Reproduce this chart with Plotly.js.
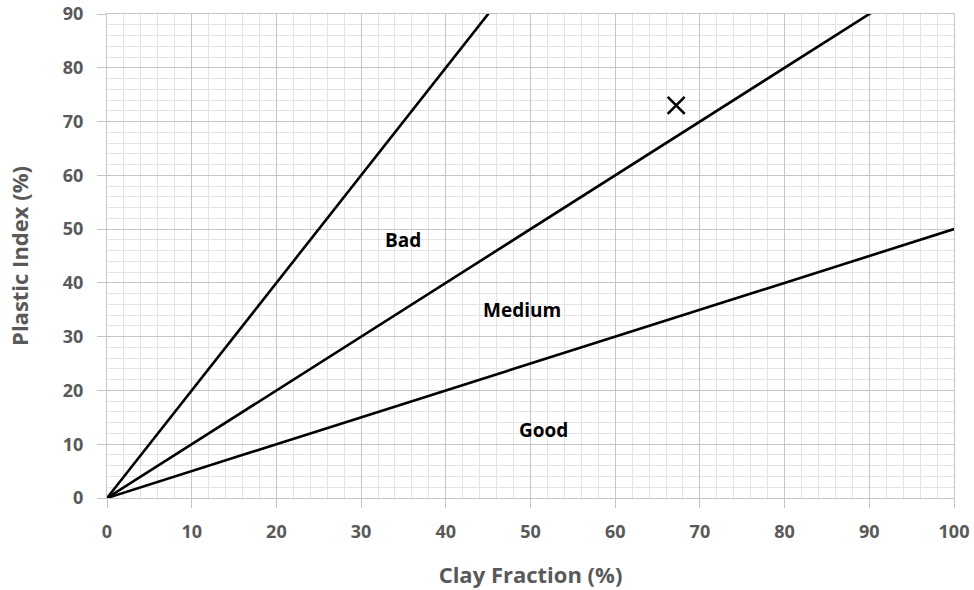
<!DOCTYPE html>
<html>
<head>
<meta charset="utf-8">
<script src="https://cdn.plot.ly/plotly-3.0.1.min.js"></script>
<style>
  html, body { margin: 0; padding: 0; background: #fff; }
  #chart { width: 974px; height: 590px; }
</style>
</head>
<body>
<div id="chart"></div>
<script>
// Boundary lines of the expansive-soil classification (activity lines)
const clayFraction = [0, 100];
const lineHigh = [0, 200];   // PI = 2.0 × clay
const lineMid = [0, 100];    // PI = 1.0 × clay
const lineLow = [0, 50];     // PI = 0.5 × clay

// Tested sample
const sampleClay = [67.2];
const samplePI = [73];

// Zone labels
const zoneNames = ['Bad', 'Medium', 'Good'];
const zoneX = [34.9, 49.0, 51.5];
const zoneY = [47.9, 34.9, 12.7];

// Minor grid every 2 %
function steps(max) {
  const v = [];
  for (let t = 0; t <= max; t += 2) v.push(t);
  return v;
}

const lineStyle = { color: '#000', width: 2.6 };

const traces = [
  { x: clayFraction, y: lineHigh, mode: 'lines', line: lineStyle, hoverinfo: 'skip' },
  { x: clayFraction, y: lineMid, mode: 'lines', line: lineStyle, hoverinfo: 'skip' },
  { x: clayFraction, y: lineLow, mode: 'lines', line: lineStyle, hoverinfo: 'skip' },
  {
    x: sampleClay, y: samplePI, mode: 'markers',
    marker: { symbol: 'x-thin-open', size: 17, color: '#000', line: { color: '#000', width: 2.6 } }
  }
];

const fontFam = '"Open Sans", "Noto Sans", sans-serif';

function makeAxis(max, extra) {
  return Object.assign({
    showgrid: true,
    gridcolor: '#c6c6c6',
    gridwidth: 1,
    zeroline: false,
    showline: true,
    mirror: true,
    linecolor: '#c6c6c6',
    linewidth: 1,
    ticks: 'outside',
    ticklen: 9,
    tickcolor: '#c6c6c6',
    ticklabeloverflow: 'allow',
    tickfont: { family: fontFam, size: 18, color: '#595959', weight: 'bold' },
    minor: { tickmode: 'array', tickvals: steps(max), showgrid: true, gridcolor: '#e4e4e4', gridwidth: 1, ticks: '' }
  }, extra);
}

const layout = {
  width: 974,
  height: 590,
  margin: { l: 107, r: 20, t: 14, b: 92 },
  paper_bgcolor: '#fff',
  plot_bgcolor: '#fff',
  showlegend: false,
  xaxis: makeAxis(100, {
    range: [0, 100],
    tick0: 0,
    dtick: 10,
    ticklabelstandoff: 8,
    title: { text: 'Clay Fraction (%)', standoff: 26,
      font: { family: fontFam, size: 22, color: '#595959', weight: 'bold' } }
  }),
  yaxis: makeAxis(90, {
    range: [0, 90],
    tick0: 0,
    dtick: 10,
    ticklabelstandoff: 10,
    title: { text: 'Plastic Index (%)', standoff: 28,
      font: { family: fontFam, size: 22, color: '#595959', weight: 'bold' } }
  }),
  annotations: zoneNames.map((t, i) => ({
    x: zoneX[i], y: zoneY[i], xref: 'x', yref: 'y', text: t, showarrow: false,
    font: { family: fontFam, size: 19, color: '#000', weight: 'bold' }
  }))
};

Plotly.newPlot('chart', traces, layout, { displayModeBar: false, staticPlot: true });
</script>
</body>
</html>
